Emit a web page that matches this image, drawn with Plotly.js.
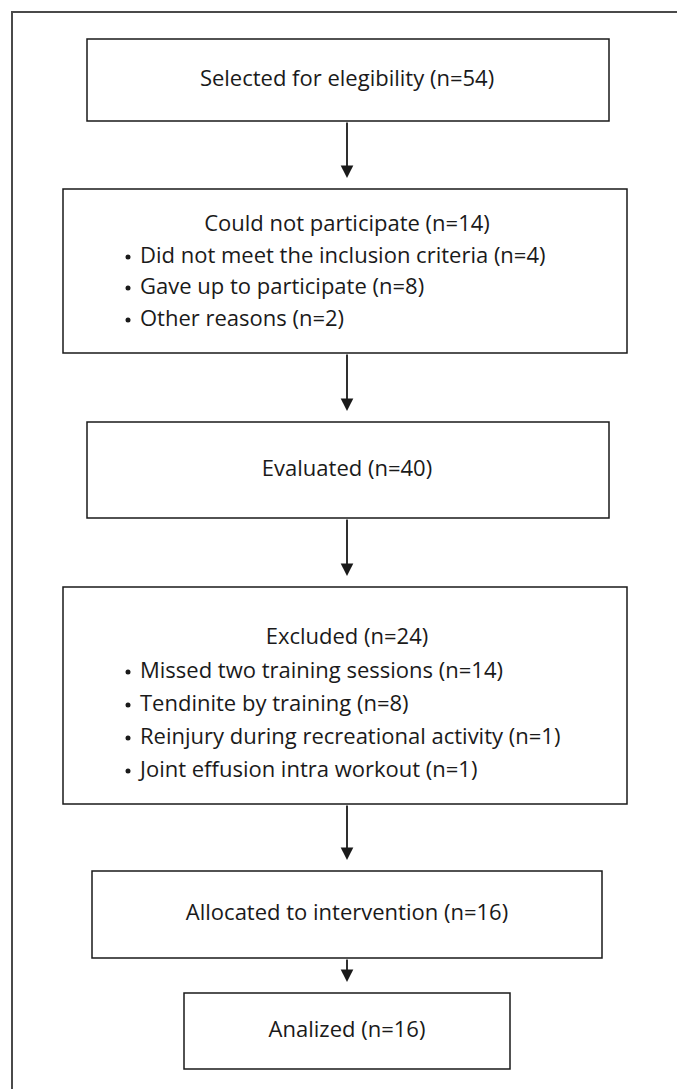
<!DOCTYPE html>
<html>
<head>
<meta charset="utf-8">
<script src="https://cdn.plot.ly/plotly-3.0.1.min.js"></script>
<style>
html,body{margin:0;padding:0;background:#fff;}
#chart{width:677px;height:1089px;}
</style>
</head>
<body>
<div id="chart"></div>
<script>
// ---- data ----
const boxTitles = ["Selected for elegibility", "Could not participate", "Evaluated", "Excluded", "Allocated to intervention", "Analized"];
const boxN = [54, 14, 40, 24, 16, 16];
const notParticipateReasons = ["Did not meet the inclusion criteria", "Gave up to participate", "Other reasons"];
const notParticipateN = [4, 8, 2];
const excludedReasons = ["Missed two training sessions", "Tendinite by training", "Reinjury during recreational activity", "Joint effusion intra workout"];
const excludedN = [14, 8, 1, 1];

// ---- layout geometry (pixel coordinates of the drawing) ----
const boxes = [
  {x0: 87, x1: 609, y0: 39,  y1: 121, ty: 80},
  {x0: 63, x1: 627, y0: 189, y1: 353, ty: 225, by: [257, 288, 320]},
  {x0: 87, x1: 609, y0: 422, y1: 518, ty: 470},
  {x0: 63, x1: 627, y0: 587, y1: 804, ty: 638, by: [672, 705, 738, 771]},
  {x0: 92, x1: 602, y0: 871, y1: 958, ty: 914},
  {x0: 184, x1: 510, y0: 993, y1: 1069, ty: 1031}
];
const reasonLists = [null, [notParticipateReasons, notParticipateN], null, [excludedReasons, excludedN], null, null];
const cx = 347, bulletX = 128, reasonX = 140, arrowGap = 11;

const FONT = '"Open Sans", "Noto Sans", sans-serif';
const FS = 22;
const TXT = '#1a1a1a';

const shapes = [];
const annotations = [];
const tx = [], ty = [], tt = [];
const lx = [], ly = [], lt = [];
const bx = [], by = [];

// outer frame
shapes.push({type: 'rect', xref: 'x', yref: 'y', x0: 12, x1: 700, y0: 12, y1: 1110,
  line: {color: '#4a4a4a', width: 2}, fillcolor: 'rgba(0,0,0,0)'});

boxes.forEach((b, i) => {
  shapes.push({type: 'rect', xref: 'x', yref: 'y', x0: b.x0, x1: b.x1, y0: b.y0, y1: b.y1,
    line: {color: '#1a1a1a', width: 1.5}, fillcolor: 'rgba(0,0,0,0)'});
  tx.push(cx); ty.push(b.ty); tt.push(boxTitles[i] + ' (n=' + boxN[i] + ')');
  const rl = reasonLists[i];
  if (rl) {
    rl[0].forEach((r, j) => {
      lx.push(reasonX); ly.push(b.by[j]); lt.push(r + ' (n=' + rl[1][j] + ')');
      bx.push(bulletX); by.push(b.by[j]);
    });
  }
  if (i < boxes.length - 1) {
    annotations.push({x: cx, y: boxes[i + 1].y0 - arrowGap, ax: cx, ay: b.y1,
      xref: 'x', yref: 'y', axref: 'x', ayref: 'y', text: '', showarrow: true,
      arrowhead: 2, arrowsize: 1.4, arrowwidth: 1.8, arrowcolor: '#1a1a1a', standoff: 0, startstandoff: 0});
  }
});

const traces = [
  {type: 'scatter', mode: 'text', x: tx, y: ty, text: tt, textposition: 'middle center',
   textfont: {family: FONT, size: FS, color: TXT}, hoverinfo: 'skip', showlegend: false},
  {type: 'scatter', mode: 'text', x: lx, y: ly, text: lt, textposition: 'middle right',
   textfont: {family: FONT, size: FS, color: TXT}, hoverinfo: 'skip', showlegend: false},
  {type: 'scatter', mode: 'markers', x: bx, y: by, marker: {size: 5, color: TXT, symbol: 'circle'},
   hoverinfo: 'skip', showlegend: false}
];

const layout = {
  width: 677, height: 1089,
  margin: {l: 0, r: 0, t: 0, b: 0, pad: 0},
  paper_bgcolor: '#fff', plot_bgcolor: '#fff',
  xaxis: {range: [0, 677], visible: false, fixedrange: true},
  yaxis: {range: [1089, 0], visible: false, fixedrange: true},
  shapes: shapes, annotations: annotations, showlegend: false
};

Plotly.newPlot('chart', traces, layout, {staticPlot: true, displayModeBar: false});
</script>
</body>
</html>
